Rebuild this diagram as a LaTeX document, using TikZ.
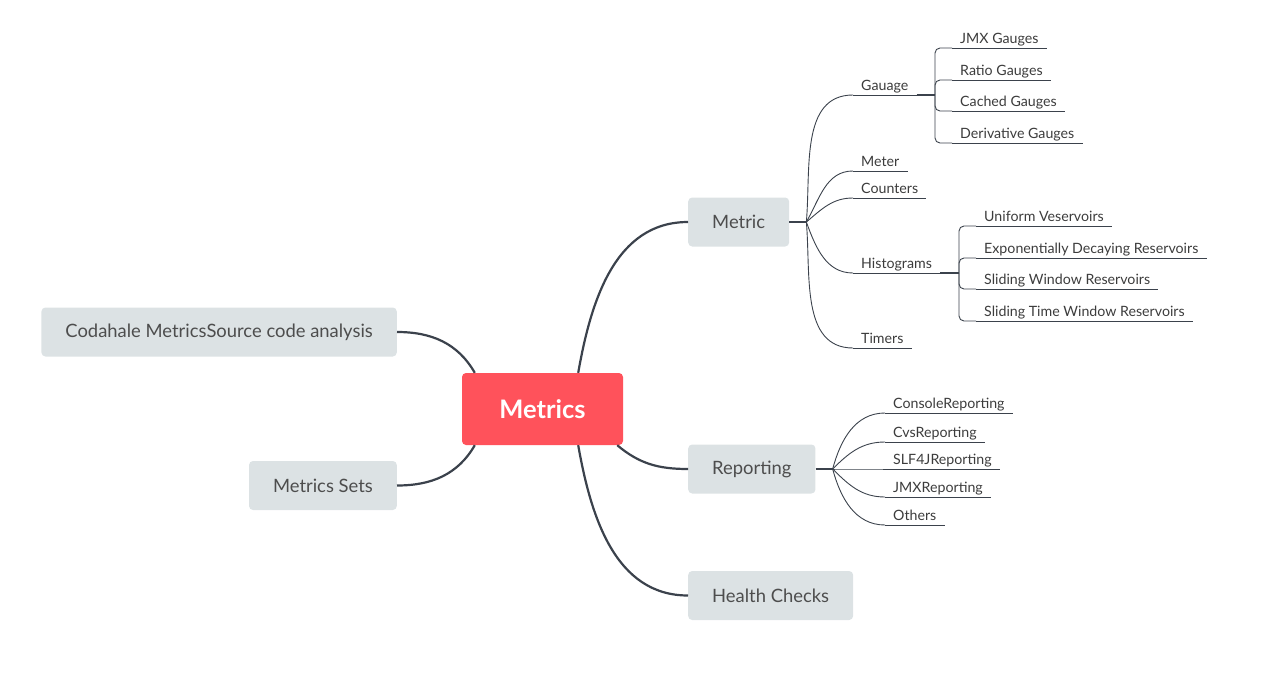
\documentclass[tikz,border=0pt]{standalone}
\usepackage{fontspec}
\setmainfont{Lato}
\usetikzlibrary{positioning}
\definecolor{rootred}{HTML}{FF525B}
\definecolor{topicgray}{HTML}{DCE2E4}
\definecolor{topictext}{HTML}{4D4D4D}
\definecolor{leaftext}{HTML}{3C3C3C}
\definecolor{linegray}{HTML}{3B424C}
\tikzset{
  rootbox/.style={fill=rootred, rounded corners=4, text=white, font=\bfseries\fontsize{25.5}{30}\selectfont, minimum width=161, minimum height=72},
  topic/.style={fill=topicgray, rounded corners=4, text=topictext, font=\fontsize{18.4}{22}\selectfont, minimum height=49, inner xsep=24},
  leaf/.style={anchor=south west, text=leaftext, font=\fontsize{14.2}{17}\selectfont, inner xsep=8, inner ysep=1.5, text height=10, text depth=3,
    append after command={(\tikzlastnode.south west) edge[twig] (\tikzlastnode.south east)}},
  trunk/.style={draw=linegray, line width=2.2},
  stub/.style={draw=linegray, line width=1.8},
  twig/.style={draw=linegray, line width=0.9},
}

\begin{document}
\begin{tikzpicture}[x=1pt, y=-1pt]
    \useasboundingbox (0,0) rectangle (1273,690);
    \node[rootbox] (root) at (542.5,409) {Metrics};
    \node[topic, anchor=west] (metric) at (688,222) {Metric};
    \node[topic, anchor=west] (reporting) at (688,469) {Reporting};
    \node[topic, anchor=west] (health) at (688,595.5) {Health Checks};
    \node[topic, anchor=east] (codahale) at (397,332) {Codahale MetricsSource code analysis};
    \node[topic, anchor=east] (sets) at (397,485.5) {Metrics Sets};
    \draw[trunk] ([xshift=-45]root.north east) to[out=80,in=180] (metric.west);
    \draw[trunk] ([xshift=-6]root.south east) to[out=-40,in=180] (reporting.west);
    \draw[trunk] ([xshift=-45]root.south east) to[out=-80,in=180] (health.west);
    \draw[trunk] ([xshift=13]root.north west) to[out=120,in=0] (codahale.east);
    \draw[trunk] ([xshift=13]root.south west) to[out=-120,in=0] (sets.east);
    % Metric
    \coordinate (mj) at ([xshift=17]metric.east);
    \draw[stub] (metric.east) -- (mj);
    \node[leaf] (gauage) at (853,95) {Gauage};
    \node[leaf] (meter) at (853,171) {Meter};
    \node[leaf] (counters) at (853,198) {Counters};
    \node[leaf] (histograms) at (853,273) {Histograms};
    \node[leaf] (timers) at (853,348) {Timers};
    \foreach \n/\o in {gauage/85, meter/60, counters/40, histograms/-70, timers/-85}
        \draw[twig] (mj) to[out=\o,in=180] (\n.south west);
    \coordinate (gj) at (935,95);
    \draw[stub] (gauage.south east) -- (gj);
    \foreach \n/\txt/\y in {jmx/JMX Gauges/48, ratio/Ratio Gauges/80, cached/Cached Gauges/111, derivative/Derivative Gauges/143} {
        \node[leaf] (\n) at (952,\y) {\txt};
        \draw[twig, rounded corners=5] (gj) |- (\n.south west);
    }
    \coordinate (hj) at (959,273);
    \draw[stub] (histograms.south east) -- (hj);
    \foreach \n/\txt/\y in {uniform/Uniform Veservoirs/226, exponential/Exponentially Decaying Reservoirs/258, sliding/Sliding Window Reservoirs/289, slidingtime/Sliding Time Window Reservoirs/321} {
        \node[leaf] (\n) at (976,\y) {\txt};
        \draw[twig, rounded corners=5] (hj) |- (\n.south west);
    }
    % Reporting
    \coordinate (rj) at ([xshift=17]reporting.east);
    \draw[stub] (reporting.east) -- (rj);
    \foreach \n/\txt/\y/\o in {console/ConsoleReporting/413/75, cvs/CvsReporting/442/45, slf/SLF4JReporting/469/0, jmxrep/JMXReporting/497/-45, others/Others/525/-75} {
        \node[leaf] (\n) at (885,\y) {\txt};
        \draw[twig] (rj) to[out=\o,in=180] (\n.south west);
    }
\end{tikzpicture}
\end{document}
